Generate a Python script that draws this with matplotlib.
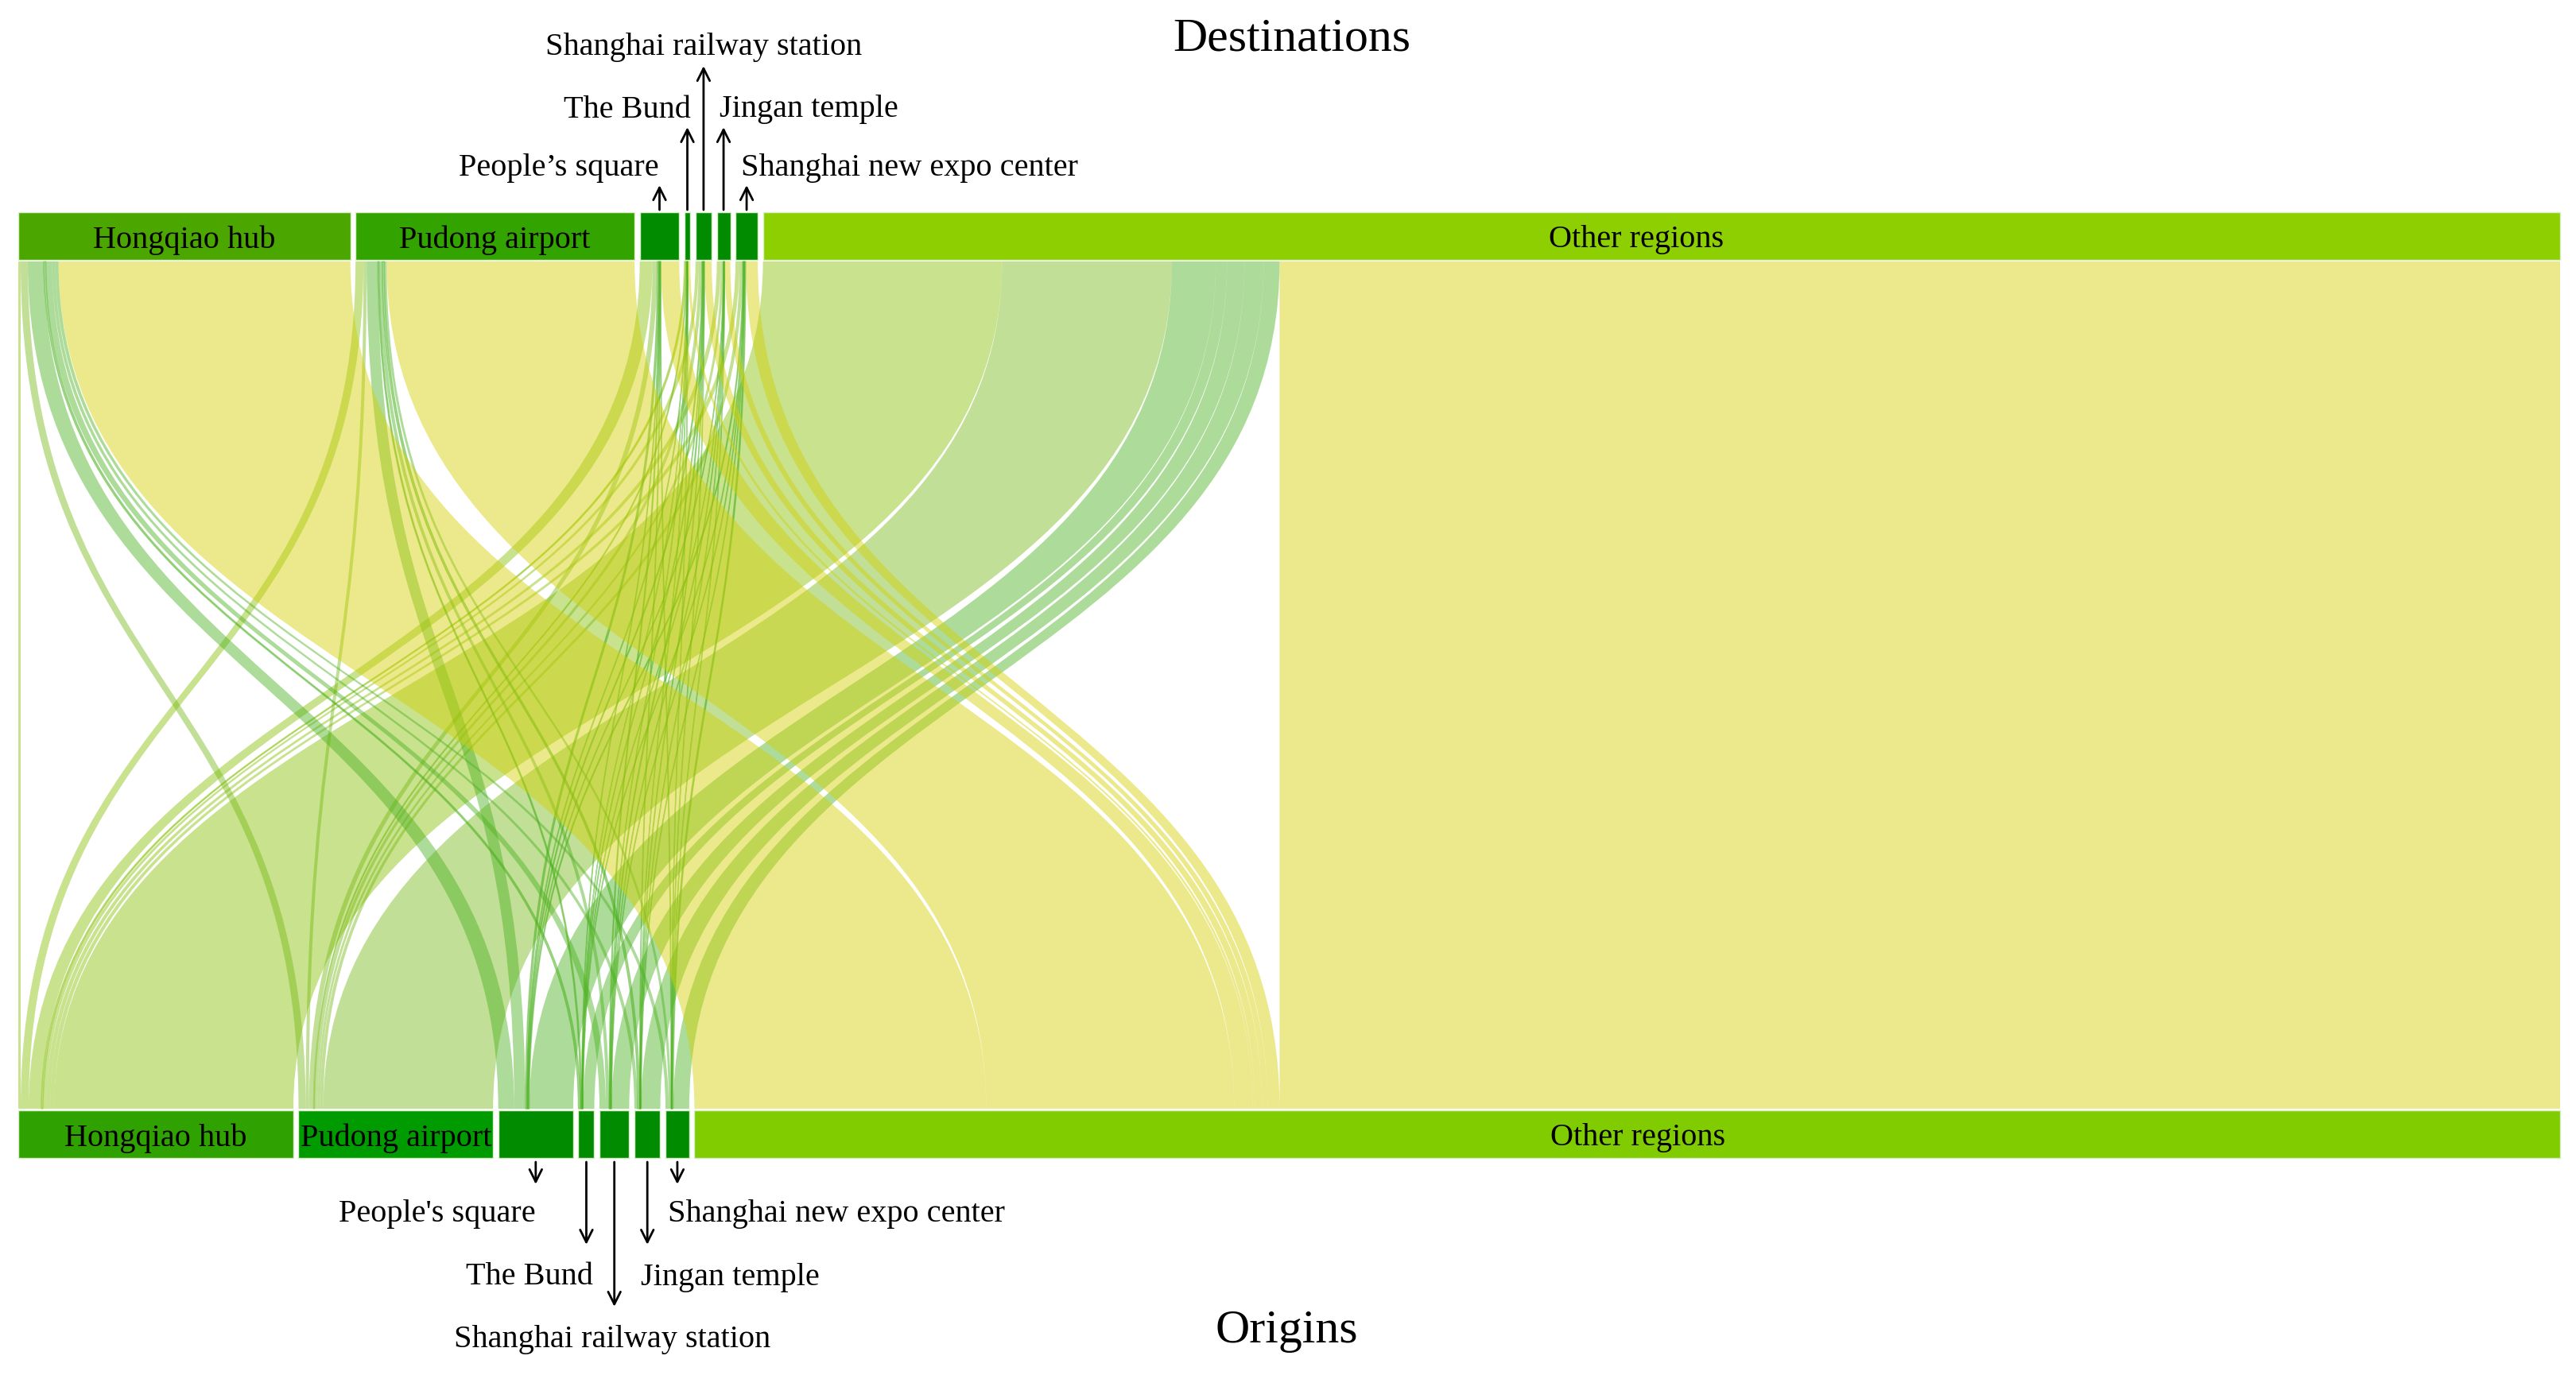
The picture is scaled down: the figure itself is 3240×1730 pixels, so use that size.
import matplotlib

matplotlib.use("Agg")

import matplotlib.pyplot as plt
from matplotlib.path import Path
from matplotlib.patches import PathPatch, Rectangle

plt.rcParams["font.family"] = ["Liberation Serif", "DejaVu Serif"]

places = ["Hongqiao hub", "Pudong airport", "People's square", "The Bund",
          "Shanghai railway station", "Jingan temple",
          "Shanghai new expo center", "Other regions"]
# passenger flows, origin (rows) -> destination (columns), same order as places
flows = [
    [3, 10, 16, 2, 4, 5, 5, 300],
    [9, 4, 6, 1, 4, 3, 4, 213],
    [20, 14, 2, 0.5, 1, 0.5, 1, 55],
    [2.5, 1.5, 0.5, 0.2, 0.5, 0.3, 0.5, 14],
    [8, 4, 1, 0.3, 1, 0.5, 0.5, 22],
    [4, 2.5, 0.5, 0.2, 0.5, 0.3, 0.5, 24],
    [4, 3, 0.5, 0.2, 0.3, 0.3, 1.5, 20],
    [366, 311, 23, 3, 9, 7, 15, 1606],
]
top_names = ["People\u2019s square", "The Bund", "Shanghai railway station",
             "Jingan temple", "Shanghai new expo center"]
bottom_names = ["People's square", "The Bund", "Shanghai railway station",
                "Jingan temple", "Shanghai new expo center"]

# colours
ribbon_col = ["#85bf06", "#77ba16", "#4bb11f", "#4bb11f", "#4bb11f",
              "#4bb11f", "#4bb11f", "#d3d000"]
top_col = ["#4ba600", "#33a300"] + ["#008b00"] * 5 + ["#8dcf00"]
bot_col = ["#2fa100", "#009b00"] + ["#008b00"] * 5 + ["#80cc00"]

W, H = 3241, 1730
X0, X1, GAP = 23, 3220, 6.5
TOP_BAR, BOT_BAR = (267, 327), (1397, 1457)
YT, YB = 329, 1395
DY = 5  # text nudge

n = len(places)
out_tot = [sum(r) for r in flows]
in_tot = [sum(flows[i][j] for i in range(n)) for j in range(n)]
total = sum(out_tot)
scale = (X1 - X0 - GAP * (n - 1)) / total


def lay(tots):
    xs, x = [], X0
    for t in tots:
        xs.append(x)
        x += t * scale + GAP
    return xs


bot_x = lay(out_tot)
top_x = lay(in_tot)

fig = plt.figure(figsize=(W / 100, H / 100), dpi=100)
ax = fig.add_axes([0, 0, 1, 1])
ax.set_xlim(0, W)
ax.set_ylim(H, 0)
ax.axis("off")

# ribbon ends
bot_seg = {}
for i in range(n):
    x = bot_x[i]
    for j in range(n):
        w = flows[i][j] * scale
        bot_seg[i, j] = (x, x + w)
        x += w
top_seg = {}
for j in range(n):
    x = top_x[j]
    for i in range(n):
        w = flows[i][j] * scale
        top_seg[i, j] = (x, x + w)
        x += w

ym = (YT + YB) / 2
for i in range(n):
    for j in range(n):
        (b0, b1), (t0, t1) = bot_seg[i, j], top_seg[i, j]
        verts = [(b0, YB), (b0, ym), (t0, ym), (t0, YT), (t1, YT),
                 (t1, ym), (b1, ym), (b1, YB), (b0, YB)]
        codes = [Path.MOVETO, Path.CURVE4, Path.CURVE4, Path.CURVE4, Path.LINETO,
                 Path.CURVE4, Path.CURVE4, Path.CURVE4, Path.CLOSEPOLY]
        thin = (b1 - b0) < 3
        ax.add_patch(PathPatch(Path(verts, codes), facecolor=ribbon_col[i],
                               edgecolor=ribbon_col[i] if thin else "none",
                               lw=1.0 if thin else 0, alpha=0.45, zorder=2))

# node bars
for k in range(n):
    ax.add_patch(Rectangle((top_x[k], TOP_BAR[0]), in_tot[k] * scale,
                           TOP_BAR[1] - TOP_BAR[0], facecolor=top_col[k],
                           edgecolor="#d8eec4", lw=1, zorder=3))
    ax.add_patch(Rectangle((bot_x[k], BOT_BAR[0]), out_tot[k] * scale,
                           BOT_BAR[1] - BOT_BAR[0], facecolor=bot_col[k],
                           edgecolor="#d8eec4", lw=1, zorder=3))

FS = 29
for k in (0, 1):
    ax.text(top_x[k] + in_tot[k] * scale / 2, sum(TOP_BAR) / 2 + DY, places[k],
            ha="center", va="center", fontsize=FS, zorder=4)
    ax.text(bot_x[k] + out_tot[k] * scale / 2, sum(BOT_BAR) / 2 + DY, places[k],
            ha="center", va="center", fontsize=FS, zorder=4)
ax.text(2058, sum(TOP_BAR) / 2 + DY, places[7], ha="center", va="center",
        fontsize=FS, zorder=4)
ax.text(2060, sum(BOT_BAR) / 2 + DY, places[7], ha="center", va="center",
        fontsize=FS, zorder=4)

arrow = dict(arrowstyle="->", lw=2, color="black",
             mutation_scale=28, shrinkA=0, shrinkB=0)
# (arrow tip, text dx, text y, ha) for the five small places
top_spec = [(233, -1, 207, "right"), (160, 4, 133, "right"), (83, 0, 54, "center"),
            (160, -5, 133, "left"), (233, -7, 207, "left")]
bot_spec = [(1490, 0, 1522, "right"), (1566, 8, 1602, "right"),
            (1644, -3, 1680, "center"), (1566, -8, 1602, "left"),
            (1490, -12, 1522, "left")]
for m, k in enumerate(range(2, 7)):
    xc = top_x[k] + in_tot[k] * scale / 2
    tip, dx, ty, ha = top_spec[m]
    ax.annotate("", xy=(xc, tip), xytext=(xc, TOP_BAR[0] - 3), arrowprops=arrow)
    ax.text(xc + dx, ty + DY, top_names[m], ha=ha, va="center", fontsize=FS)
    xc = bot_x[k] + out_tot[k] * scale / 2
    tip, dx, ty, ha = bot_spec[m]
    ax.annotate("", xy=(xc, tip), xytext=(xc, BOT_BAR[1] + 5), arrowprops=arrow)
    ax.text(xc + dx, ty + DY, bottom_names[m], ha=ha, va="center", fontsize=FS)

ax.text(1625, 45 + DY, "Destinations", ha="center", va="center", fontsize=43)
ax.text(1618, 1670 + DY, "Origins", ha="center", va="center", fontsize=43)

fig.savefig("out.png", dpi=100)
